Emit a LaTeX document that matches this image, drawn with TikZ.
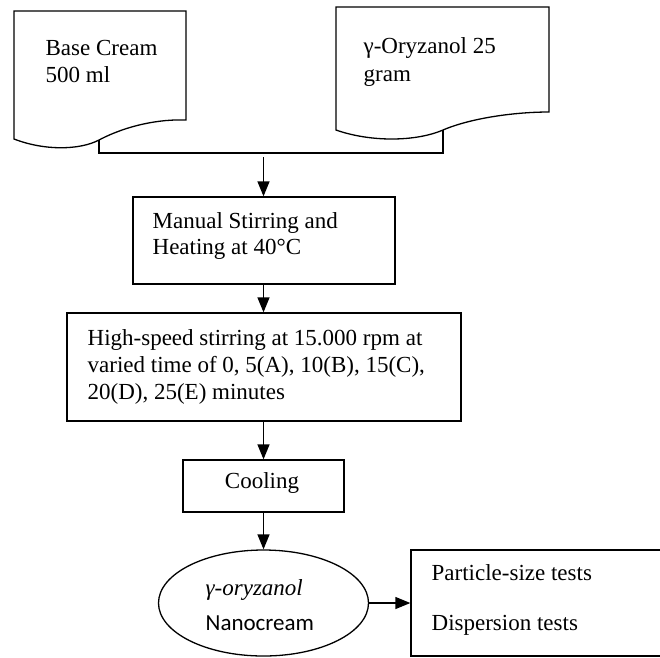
\documentclass[tikz,border=0pt]{standalone}
\usepackage{fontspec}
\setmainfont{Liberation Serif}
\newfontfamily\calib{Carlito}
\usetikzlibrary{arrows.meta,shapes.geometric}
\begin{document}
\begin{tikzpicture}[x=1pt,y=-1pt,line width=1.3pt,
  arr/.style={-{Triangle[length=15pt,width=12pt]}},
  boxshape/.style={draw,rectangle,inner sep=0pt},
  txt/.style={anchor=base west,inner sep=0pt,font=\fontsize{23}{27}\selectfont},
  ctxt/.style={anchor=base,inner sep=0pt,font=\fontsize{23}{27}\selectfont}]
\useasboundingbox[fill=white] (0,0) rectangle (660,657);
% document shapes
\draw (14,11) -- (186,11) -- (186,120)
  .. controls (160,119) and (127.5,125) .. (99,140)
  .. controls (80,150) and (45,151) .. (14,139) -- cycle;
\coordinate (d1b) at (99,140);
\draw (336,7) -- (549,7) -- (549,112)
  .. controls (515,112) and (471,118) .. (443,130)
  .. controls (415,142) and (370,142) .. (336,130) -- cycle;
\coordinate (d2b) at (443,130);
\node[txt] (t1a) at (45,55) {Base Cream};
\node[txt] (t1b) at (45,82) {500 ml};
\node[txt] (t2a) at (363,53) {γ-Oryzanol 25};
\node[txt] (t2b) at (363,81) {gram};
% joining connector
\coordinate (jr) at (443,153);
\draw (d1b) |- (jr) -- (d2b);
\coordinate (a0) at (263.5,157);
% boxes
\node[boxshape,minimum width=262pt,minimum height=87pt] (b2) at (264,240.5) {};
\node[txt] (b2a) at (152,228) {Manual Stirring and};
\node[txt] (b2b) at (152,254) {Heating at 40°C};
\node[boxshape,minimum width=394pt,minimum height=108pt] (b3) at (264,367) {};
\node[txt] (b3a) at (87,345) {High-speed stirring at 15.000 rpm at};
\node[txt] (b3b) at (87,372) {varied time of 0, 5(A), 10(B), 15(C),};
\node[txt] (b3c) at (87,399) {20(D), 25(E) minutes};
\node[boxshape,minimum width=161pt,minimum height=52pt] (b4) at (263.5,486) {};
\node[ctxt] (b4a) at (262,488) {Cooling};
\node[draw,ellipse,inner sep=0pt,minimum width=210pt,minimum height=106pt] (el) at (263.5,603) {};
\node[txt,font=\fontsize{23}{27}\selectfont\itshape] (ela) at (205,595) {γ-oryzanol};
\node[txt,font=\fontsize{23}{27}\calib] (elb) at (205,630) {Nanocream};
\node[boxshape,minimum width=259pt,minimum height=106pt] (rb) at (540.5,603) {};
\node[txt] (rba) at (431,580) {Particle-size tests};
\node[txt] (rbb) at (431,630) {Dispersion tests};
% arrows
\draw[arr] (a0) -- (a0 |- b2.north);
\draw[arr] (b2.south -| a0) -- (b3.north -| a0);
\draw[arr] (b3.south -| a0) -- (b4.north);
\draw[arr] (b4.south) -- (el.north);
\draw[arr] (el.east) -- (rb.west);
\end{tikzpicture}
\end{document}
